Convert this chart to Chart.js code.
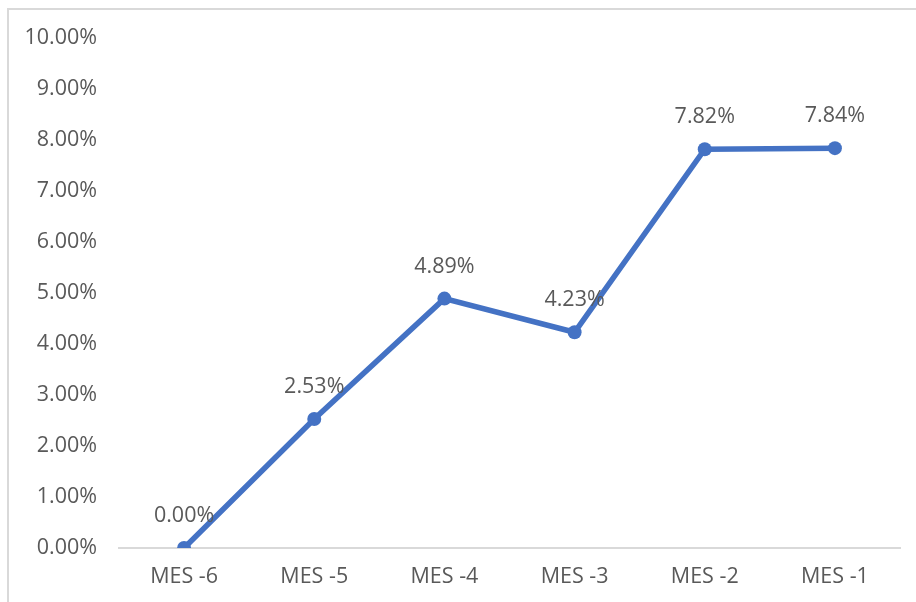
<!DOCTYPE html>
<html>
<head>
<meta charset="utf-8">
<script src="https://cdn.jsdelivr.net/npm/chart.js@4/dist/chart.umd.min.js"></script>
<style>
  html, body { margin: 0; padding: 0; background: #ffffff; }
  #wrap { position: relative; width: 916px; height: 602px; }
</style>
</head>
<body>
<div id="wrap"><canvas id="chart" width="916" height="602"></canvas></div>
<script>
// Monthly values (percent)
const categories = ['MES -6', 'MES -5', 'MES -4', 'MES -3', 'MES -2', 'MES -1'];
const values = [0.00, 2.53, 4.89, 4.23, 7.82, 7.84];
const yMin = 0;
const yMax = 10;
const yStep = 1;

const FONT = '"Open Sans", "DejaVu Sans", sans-serif';
const FONT_SIZE = 21.5;
const TEXT = '#595959';
const LINE = '#4472C4';

const fmt = v => v.toFixed(2) + '%';

// Outer frame (top and left edges of the chart panel)
const framePlugin = {
  id: 'frame',
  beforeDraw(chart) {
    const ctx = chart.ctx;
    ctx.save();
    ctx.strokeStyle = '#d9d9d9';
    ctx.lineWidth = 2;
    ctx.beginPath();
    ctx.moveTo(916, 9);
    ctx.lineTo(8, 9);
    ctx.lineTo(8, 602);
    ctx.stroke();
    ctx.restore();
  }
};

// Value labels above each point
const valueLabels = {
  id: 'valueLabels',
  afterDatasetsDraw(chart) {
    const ctx = chart.ctx;
    const meta = chart.getDatasetMeta(0);
    ctx.save();
    ctx.font = FONT_SIZE + 'px ' + FONT;
    ctx.fillStyle = TEXT;
    ctx.textAlign = 'center';
    ctx.textBaseline = 'middle';
    meta.data.forEach((pt, i) => {
      ctx.fillText(fmt(values[i]), pt.x, pt.y - 32);
    });
    ctx.restore();
  }
};

new Chart(document.getElementById('chart'), {
  type: 'line',
  data: {
    labels: categories,
    datasets: [{
      data: values,
      borderColor: LINE,
      backgroundColor: LINE,
      borderWidth: 5.5,
      pointRadius: 7,
      pointHoverRadius: 7,
      pointBackgroundColor: LINE,
      pointBorderColor: LINE,
      pointBorderWidth: 0,
      tension: 0,
      fill: false
    }]
  },
  options: {
    responsive: false,
    animation: false,
    layout: { padding: { top: 38, right: 16, bottom: 0, left: 0 } },
    plugins: {
      legend: { display: false },
      tooltip: { enabled: false }
    },
    scales: {
      x: {
        offset: true,
        grid: { display: false, drawTicks: false },
        border: { display: true, color: '#d9d9d9', width: 2 },
        ticks: { color: TEXT, font: { family: FONT, size: FONT_SIZE }, padding: 16, maxRotation: 0 },
        afterFit(scale) { scale.height = 54; }
      },
      y: {
        min: yMin,
        max: yMax,
        grid: { display: false, drawTicks: false },
        border: { display: false },
        ticks: {
          stepSize: yStep,
          color: TEXT,
          font: { family: FONT, size: FONT_SIZE },
          padding: 22,
          callback: v => fmt(v)
        },
        afterFit(scale) { scale.width = 119; }
      }
    }
  },
  plugins: [framePlugin, valueLabels]
});
</script>
</body>
</html>
